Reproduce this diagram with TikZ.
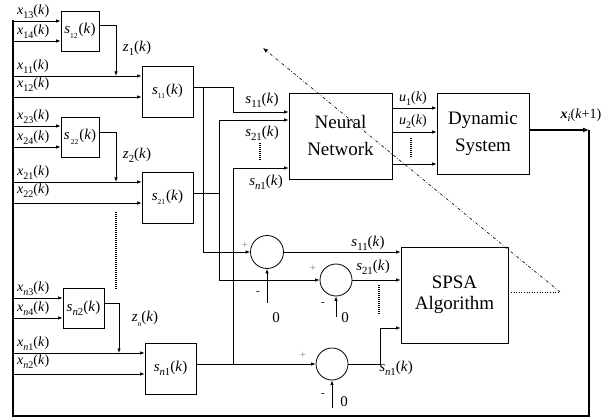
\documentclass[tikz,border=0pt]{standalone}
\usepackage{fontspec}
\setmainfont{Liberation Serif}
\usepackage{graphicx}
\usetikzlibrary{arrows.meta}
% variable with lowered subscript and argument
\newcommand{\var}[3]{\textit{#1}\raisebox{-0.28em}{\scalebox{0.72}{#2}}(\textit{#3})}
\newcommand{\bvar}[3]{{\fontsize{15}{17}\selectfont\textit{#1}\raisebox{-0.3em}{\scalebox{0.5}{#2}}\kern1pt(\textit{#3})}}
\tikzset{
  wire/.style={line width=0.8pt},
  arr/.style={wire,-{Latex[length=4.5pt,width=3.5pt]}},
  block/.style={draw,line width=0.8pt,rectangle,inner sep=0pt},
  sumnode/.style={draw,line width=0.8pt,circle,minimum size=33pt,inner sep=0pt},
  bus/.style={line width=2.6pt},
  lbl/.style={font=\fontsize{14}{16}\selectfont,inner sep=0.5pt},
  slbl/.style={font=\fontsize{15}{17}\selectfont,inner sep=0pt},
  big/.style={font=\fontsize{19}{27}\selectfont,align=center},
  sign/.style={font=\fontsize{11}{12}\selectfont,inner sep=0pt},
  dots/.style={line width=1.4pt,dash pattern=on 1pt off 1pt},
}
\begin{document}
\begin{tikzpicture}[x=1pt,y=-1pt]
\useasboundingbox (0,0) rectangle (612,419);

% ---- sub-blocks ----
\node[block,minimum width=38pt,minimum height=40pt] (s12) at (80,31) {\bvar{s}{12}{k}};
\node[block,minimum width=51pt,minimum height=51pt] (s11) at (167.5,91.5) {\bvar{s}{11}{k}};
\node[block,minimum width=38pt,minimum height=40pt] (s22) at (80,137) {\bvar{s}{\,22}{k}};
\node[block,minimum width=51pt,minimum height=51pt] (s21) at (167.5,197.5) {\bvar{s}{21}{k}};
\node[block,minimum width=41pt,minimum height=40pt] (sn2) at (83.5,308) {\fontsize{15}{17}\selectfont\textit{s}\raisebox{-0.28em}{\scalebox{0.72}{\textit{n}2}}(\textit{k})};
\node[block,minimum width=51pt,minimum height=51pt] (sn1) at (170.5,368.5) {\fontsize{15}{17}\selectfont\textit{s}\raisebox{-0.28em}{\scalebox{0.72}{\textit{n}1}}(\textit{k})};

% ---- main blocks ----
\node[block,big,minimum width=103pt,minimum height=86pt] (NN) at (340.5,136) {Neural\\Network};
\node[block,big,minimum width=92pt,minimum height=81pt] (DS) at (483,133.5) {Dynamic\\System};
\node[block,big,minimum width=107pt,minimum height=96pt] (SPSA) at (454.5,295) {SPSA\\[-6pt]Algorithm};

% ---- summing junctions ----
\node[sumnode] (c1) at (267,252) {};
\node[sumnode,minimum size=32pt] (c2) at (336,280) {};
\node[sumnode,minimum size=32pt] (c3) at (332,364) {};

% ---- feedback bus ----
\coordinate (busTop) at (13,20);
\coordinate (busBL) at (13,416);
\coordinate (busBR) at (589,416);
\coordinate (outPt) at (589,130);
\draw[bus,-{Latex[length=6pt,width=5pt]}] (DS.east |- outPt) -- (outPt);
\draw[bus,line join=miter] (outPt) -- (busBR) -- (busBL) -- (busTop);
\node[font=\fontsize{14}{16}\selectfont,inner sep=0pt] (xout) at (581,115) {\textbf{\textit{x}}\raisebox{-0.25em}{\scalebox{0.75}{\textit{i}}}(\textit{k}+1)};

% ---- inputs of group 1 ----
\draw[arr] (13,21) -- (s12.west |- 0,21);
\draw[arr] (13,41) -- (s12.west |- 0,41);
\draw[arr] (13,76) -- (s11.west |- 0,76);
\draw[arr] (13,97) -- (s11.west |- 0,97);
\draw[arr] (s12.east |- 0,25) -- (116,25) -- (116,76);
\node[lbl,anchor=south west] at (16.5,19) {\var{x}{13}{k}};
\node[lbl,anchor=south west] at (16.5,39) {\var{x}{14}{k}};
\node[lbl,anchor=south west] at (16.5,74) {\var{x}{11}{k}};
\node[lbl,anchor=south west] at (16.5,92) {\var{x}{12}{k}};
\node[slbl] at (137,48) {\var{z}{1}{k}};

% ---- inputs of group 2 ----
\draw[arr] (13,126) -- (s22.west |- 0,126);
\draw[arr] (13,147) -- (s22.west |- 0,147);
\draw[arr] (13,182) -- (s21.west |- 0,182);
\draw[arr] (13,203) -- (s21.west |- 0,203);
\draw[arr] (s22.east |- 0,132) -- (116,132) -- (116,182);
\node[lbl,anchor=south west] at (16.5,124) {\var{x}{23}{k}};
\node[lbl,anchor=south west] at (16.5,145) {\var{x}{24}{k}};
\node[lbl,anchor=south west] at (16.5,180) {\var{x}{21}{k}};
\node[lbl,anchor=south west] at (16.5,198) {\var{x}{22}{k}};
\node[slbl] at (137,155) {\var{z}{2}{k}};
\draw[dots] (116,212) -- (116,290);

% ---- inputs of group n ----
\draw[arr] (13,298) -- (sn2.west |- 0,298);
\draw[arr] (13,318) -- (sn2.west |- 0,318);
\draw[arr] (13,353) -- (sn1.west |- 0,353);
\draw[arr] (13,374) -- (sn1.west |- 0,374);
\draw[arr] (sn2.east |- 0,303) -- (119,303) -- (119,353);
\node[lbl,anchor=south west] at (16.5,296) {\var{x}{\textit{n}3}{k}};
\node[lbl,anchor=south west] at (16.5,316) {\var{x}{\textit{n}4}{k}};
\node[lbl,anchor=south west] at (16.5,351) {\var{x}{\textit{n}1}{k}};
\node[lbl,anchor=south west] at (16.5,369) {\var{x}{\textit{n}2}{k}};
\node[slbl] at (145,319) {\textit{z}\raisebox{-0.3em}{\scalebox{0.5}{\textit{n}}}(\textit{k})};

% ---- outputs to the network and the summers ----
\draw[arr] (s11.east |- 0,87) -- (233,87) -- (233,112) -- (NN.west |- 0,112);
\draw[arr] (203,87) -- (203,252) -- (c1.west);
\draw[arr] (s21.east |- 0,193) -- (219,193) -- (219,120) -- (NN.west |- 0,120);
\draw[arr] (219,193) -- (219,280) -- (c2.west);
\draw[arr] (sn1.east |- 0,364) -- (c3.west);
\draw[arr] (233,364) -- (233,168) -- (NN.west |- 0,168);
\node[slbl] at (262,100) {\var{s}{11}{k}};
\node[slbl] at (262,133) {\var{s}{21}{k}};
\draw[dots] (260,143) -- (260,160);
\node[slbl] at (266,182) {\var{s}{\textit{n}1}{k}};

% ---- network to system ----
\draw[arr] (NN.east |- 0,108) -- (DS.west |- 0,108);
\draw[arr] (NN.east |- 0,132) -- (DS.west |- 0,132);
\draw[arr] (NN.east |- 0,164) -- (DS.west |- 0,164);
\node[lbl] at (413,99) {\var{u}{1}{k}};
\node[lbl] at (413,122) {\var{u}{2}{k}};
\draw[dots] (411,138) -- (411,157);

% ---- summers to SPSA ----
\draw[arr] (c1.east) -- (SPSA.west |- c1);
\draw[arr] (c2.east) -- (SPSA.west |- c2);
\draw[arr] (c3.east) -- (380,364) -- (380,328) -- (SPSA.west |- 0,328);
\node[slbl] at (368,243) {\var{s}{11}{k}};
\node[slbl] at (373,267) {\var{s}{21}{k}};
\draw[dots] (379,285) -- (379,315);
\node[slbl] at (396,368) {\var{s}{\textit{n}1}{k}};

% ---- reference inputs ----
\coordinate (z1) at (267,303);
\coordinate (z2) at (336,317);
\coordinate (z3) at (332,408);
\draw[arr] (z1) -- (c1.south);
\draw[arr] (z2) -- (c2.south);
\draw[arr] (z3) -- (c3.south);
\node[font=\fontsize{15}{17}\selectfont] at (276,318) {0};
\node[font=\fontsize{15}{17}\selectfont] at (345,318) {0};
\node[font=\fontsize{15}{17}\selectfont] at (344,402) {0};
\node[sign] at (258,293) {-};
\node[sign] at (323,304) {-};
\node[sign] at (323,395) {-};
\node[sign,gray] at (245,245) {+};
\node[sign,gray] at (313,268) {+};
\node[sign,gray] at (303,355) {+};

% ---- tuning path ----
\coordinate (tip) at (560,292);
\draw[wire,line width=0.6pt,dotted] (SPSA.east |- tip) -- (tip);
\draw[line width=0.6pt,dash dot,-{Latex[length=5pt,width=4pt]}] (tip) -- (263,48);
\end{tikzpicture}
\end{document}
